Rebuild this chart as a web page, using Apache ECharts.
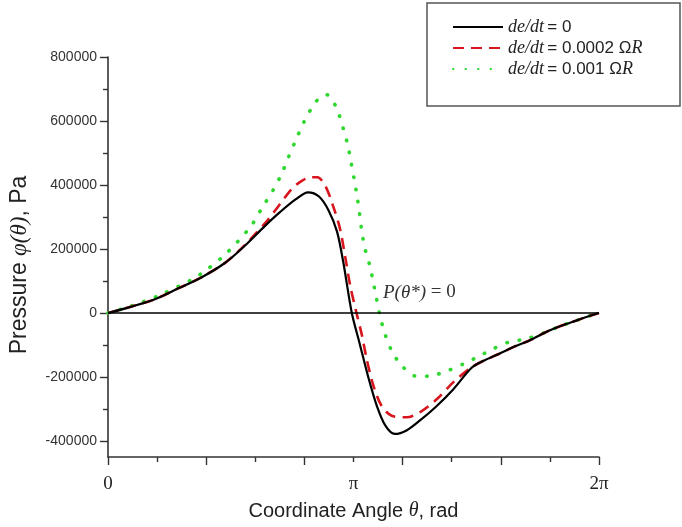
<!DOCTYPE html>
<html>
<head>
<meta charset="utf-8">
<script src="https://cdn.jsdelivr.net/npm/echarts@6/dist/echarts.min.js"></script>
<style>html,body{margin:0;padding:0;background:#fff;}#c{width:682px;height:527px;}</style>
</head>
<body>
<div id="c"></div>
<script>
// Angle theta in radians, pressure in Pa
const thetaA = [0, 0.3, 0.6, 0.9, 1.2, 1.5, 1.75, 2.0, 2.2, 2.4, 2.56, 2.7, 2.82, 2.93, 3.01, 3.12, 3.22, 3.33, 3.44, 3.55, 3.67, 3.82, 4.0, 4.2, 4.42, 4.65, 4.8, 5.0, 5.2, 5.4, 5.6, 5.8, 6.0, 6.15, 6.2832];
const pressA = [0, 20000, 43000, 77000, 112000, 157000, 210000, 270000, 315000, 355000, 377000, 364000, 322000, 255000, 160000, 0, -95000, -200000, -290000, -352000, -378000, -367000, -334000, -292000, -238000, -172000, -150000, -128000, -105000, -85000, -60000, -40000, -23000, -10000, 0];

const thetaB = [0, 0.3, 0.6, 0.9, 1.2, 1.5, 1.75, 2.05, 2.2, 2.35, 2.48, 2.6, 2.68, 2.78, 2.88, 2.97, 3.04, 3.1, 3.18, 3.25, 3.31, 3.4, 3.5, 3.63, 3.82, 4.0, 4.21, 4.42, 4.65, 4.8, 5.0, 5.2, 5.4, 5.6, 5.8, 6.0, 6.15, 6.2832];
const pressB = [0, 20000, 43000, 77000, 112000, 157000, 212000, 292000, 340000, 387000, 413000, 424000, 424000, 398000, 335000, 262000, 169000, 85000, 0, -70000, -144000, -230000, -290000, -321000, -326000, -309000, -269000, -216000, -170000, -150000, -128000, -105000, -85000, -60000, -40000, -23000, -10000, 0];

const thetaC = [0, 0.3, 0.665, 1.07, 1.26, 1.46, 1.66, 1.84, 1.975, 2.12, 2.22, 2.31, 2.41, 2.51, 2.63, 2.72, 2.8, 2.87, 2.94, 3.01, 3.07, 3.11, 3.15, 3.19, 3.22, 3.25, 3.29, 3.35, 3.395, 3.48, 3.545, 3.63, 3.76, 3.95, 4.14, 4.35, 4.55, 4.74, 4.93, 5.13, 5.35, 5.6, 5.8, 6.0, 6.15, 6.2832];
const pressC = [0, 22000, 56000, 104000, 135000, 174000, 223000, 275000, 330000, 387000, 434000, 487000, 544000, 598000, 650000, 675000, 682000, 665000, 632000, 577000, 523000, 471000, 419000, 361000, 309000, 252000, 200000, 148000, 96000, -8000, -66000, -118000, -165000, -198000, -196000, -180000, -159000, -136000, -112000, -91000, -81000, -60000, -40000, -23000, -10000, 0];

const seriesNames = ['de/dt = 0', 'de/dt = 0.0002 ΩR', 'de/dt = 0.001 ΩR'];
const yTickValues = [-400000, -200000, 0, 200000, 400000, 600000, 800000];
const xTickLabels = {0: '0', 1: 'π', 2: '2π'};

function pairs(th, p) { return th.map((t, i) => [t / Math.PI, p[i]]); }

const chart = echarts.init(document.getElementById('c'));
const axisCol = '#333';
const sans = 'Liberation Sans, Arial, sans-serif';
const serif = 'Liberation Serif, Times New Roman, serif';

chart.setOption({
  animation: false,
  backgroundColor: '#fff',
  grid: [
    {left: 108, right: 83, top: 57, height: 400, outerBoundsMode: 'none', containLabel: false},
    {left: 108, right: 83, top: 57, height: 384, outerBoundsMode: 'none', containLabel: false}
  ],
  xAxis: [
    {gridIndex: 0, type: 'value', min: 0, max: 2, interval: 0.4,
     axisLine: {show: true, onZero: false, lineStyle: {color: axisCol, width: 1.6}},
     axisTick: {show: true, length: 8, lineStyle: {color: axisCol, width: 1.4}},
     minorTick: {show: true, splitNumber: 2, length: 5, lineStyle: {color: axisCol, width: 1.4}},
     axisLabel: {show: false}, splitLine: {show: false}},
    {gridIndex: 0, type: 'value', position: 'bottom', min: 0, max: 2, interval: 1,
     axisLine: {show: false}, axisTick: {show: false}, splitLine: {show: false},
     axisLabel: {show: true, margin: 18, fontFamily: serif, fontSize: 19, color: '#222',
       formatter: v => xTickLabels[Math.round(v)] || ''},
     name: '{n|Coordinate Angle }{i|θ}{n|, rad}', nameLocation: 'middle', nameGap: 44,
     nameTextStyle: {rich: {n: {fontFamily: sans, fontSize: 20, color: '#222'}, i: {fontFamily: serif, fontStyle: 'italic', fontSize: 20, color: '#222'}}}},
    {gridIndex: 1, type: 'value', min: 0, max: 2, show: false}
  ],
  yAxis: [
    {gridIndex: 0, type: 'value', min: -450000, max: 800000,
     axisLine: {show: true, onZero: false, lineStyle: {color: axisCol, width: 1.6}},
     axisTick: {show: false}, axisLabel: {show: false}, splitLine: {show: false},
     name: '{n|Pressure }{i|φ(θ)}{n|, Pa}', nameLocation: 'middle', nameGap: 77, nameRotate: 90,
     nameTextStyle: {padding: [0, 16, 0, 0], rich: {n: {fontFamily: sans, fontSize: 23, color: '#222'}, i: {fontFamily: serif, fontStyle: 'italic', fontSize: 23, color: '#222'}}}},
    {gridIndex: 1, type: 'value', min: -400000, max: 800000, interval: 200000,
     axisLine: {show: false}, splitLine: {show: false},
     axisTick: {show: true, length: 8, lineStyle: {color: axisCol, width: 1.4}},
     minorTick: {show: true, splitNumber: 2, length: 5, lineStyle: {color: axisCol, width: 1.4}},
     axisLabel: {show: true, margin: 11, fontFamily: sans, fontSize: 14, color: '#333',
       formatter: v => yTickValues.includes(v) ? String(v) : ''}}
  ],
  legend: {
    left: 452, top: 18, orient: 'vertical', itemWidth: 50, itemHeight: 14, itemGap: 3, padding: 0,
    data: seriesNames,
    itemStyle: {opacity: 0},
    formatter: function (name) {
      const rest = name.replace('de/dt ', '');
      if (rest.indexOf('ΩR') >= 0) {
        return '{i|de/dt} {n|' + rest.replace('ΩR', 'Ω') + '}{i|R}';
      }
      return '{i|de/dt} {n|' + rest + '}';
    },
    textStyle: {rich: {
      n: {fontFamily: sans, fontSize: 17, color: '#222'},
      i: {fontFamily: serif, fontStyle: 'italic', fontSize: 18, color: '#222'}
    }}
  },
  graphic: [
    {type: 'rect', shape: {x: 427, y: 3, width: 253, height: 103}, style: {fill: 'none', stroke: '#555', lineWidth: 1.5}, silent: true},
    {type: 'text', left: 383, top: 283, silent: true,
     style: {text: '{i|P(θ*)}{n| = 0}', rich: {
       i: {fontFamily: serif, fontStyle: 'italic', fontSize: 19, fill: '#333'},
       n: {fontFamily: serif, fontSize: 19, fill: '#333'}}}}
  ],
  series: [
    {name: seriesNames[0], type: 'line', xAxisIndex: 0, yAxisIndex: 0, data: pairs(thetaA, pressA),
     symbol: 'none', smooth: 0.3, z: 4,
     lineStyle: {color: '#000', width: 2.2}, itemStyle: {color: '#000'},
     markLine: {silent: true, symbol: ['none', 'none'], label: {show: false},
       lineStyle: {color: '#000', width: 1.6, type: 'solid'}, data: [{yAxis: 0}]}},
    {name: seriesNames[1], type: 'line', xAxisIndex: 0, yAxisIndex: 0, data: pairs(thetaB, pressB),
     symbol: 'none', smooth: 0.3, z: 3,
     lineStyle: {color: '#d8141c', width: 2.6, type: [11, 7]}, itemStyle: {color: '#d8141c'}},
    {name: seriesNames[2], type: 'line', xAxisIndex: 0, yAxisIndex: 0, data: pairs(thetaC, pressC),
     symbol: 'none', smooth: 0.3, z: 2,
     lineStyle: {color: '#2fd82f', width: 3.6, type: [0.5, 12], cap: 'round'}, itemStyle: {color: '#2fd82f'}}
  ]
});
</script>
</body>
</html>
